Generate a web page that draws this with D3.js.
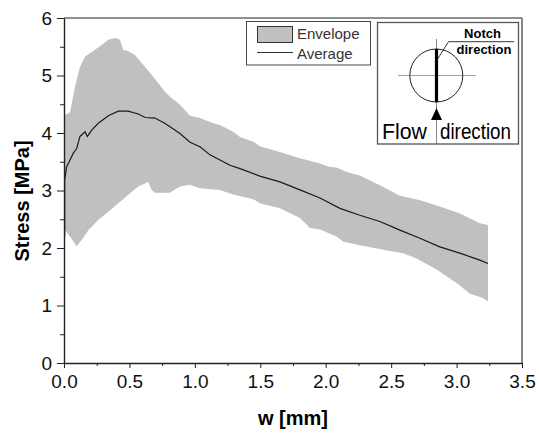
<!DOCTYPE html>
<html>
<head>
    <style>
        body { margin: 0; background: #fff; }
        svg text { font-family: "Liberation Sans", Arial, sans-serif; }
        .axis path, .axis line { stroke: #222; }
        .axis text { font-size: 19px; fill: #111; }
    </style>
</head>
<body>
    <script src="https://d3js.org/d3.v7.min.js"></script>
    <script>
        // Envelope (upper / lower bound)
        var upperW = [0, 0.03, 0.046, 0.084, 0.122, 0.161, 0.212, 0.288, 0.339, 0.38, 0.401, 0.428, 0.453, 0.49, 0.54, 0.62, 0.682, 0.77, 0.81, 0.886, 0.963, 1.039, 1.14, 1.192, 1.293, 1.345, 1.446, 1.497, 1.65, 1.803, 1.956, 2.032, 2.083, 2.16, 2.26, 2.414, 2.567, 2.72, 2.872, 3.025, 3.178, 3.24];
        var upperS = [4.31, 4.34, 4.36, 4.8, 5.15, 5.33, 5.41, 5.53, 5.62, 5.65, 5.65, 5.62, 5.45, 5.42, 5.36, 5.15, 4.98, 4.72, 4.63, 4.49, 4.30, 4.26, 4.17, 4.14, 4.02, 3.93, 3.85, 3.77, 3.67, 3.56, 3.47, 3.41, 3.40, 3.32, 3.26, 3.09, 2.91, 2.83, 2.72, 2.60, 2.43, 2.40];
        var lowerW = [0, 0.008, 0.046, 0.097, 0.135, 0.186, 0.262, 0.339, 0.415, 0.49, 0.567, 0.644, 0.67, 0.695, 0.81, 0.886, 0.963, 1.039, 1.192, 1.293, 1.446, 1.497, 1.65, 1.803, 1.88, 1.956, 2.083, 2.134, 2.26, 2.44, 2.59, 2.69, 2.85, 3.0, 3.10, 3.20, 3.24];
        var lowerS = [2.25, 2.31, 2.20, 2.03, 2.14, 2.31, 2.49, 2.63, 2.78, 2.92, 3.07, 3.15, 3.01, 2.96, 2.96, 3.07, 3.10, 3.04, 3.01, 2.93, 2.85, 2.78, 2.69, 2.52, 2.35, 2.32, 2.20, 2.11, 2.05, 1.97, 1.91, 1.82, 1.62, 1.39, 1.21, 1.13, 1.07];

        // Average curve
        var avgW = [0.005, 0.005, 0.02, 0.046, 0.071, 0.097, 0.122, 0.161, 0.178, 0.212, 0.262, 0.339, 0.415, 0.49, 0.567, 0.62, 0.695, 0.77, 0.83, 0.886, 0.963, 1.039, 1.116, 1.192, 1.268, 1.345, 1.497, 1.65, 1.803, 1.956, 2.109, 2.26, 2.414, 2.567, 2.72, 2.872, 3.025, 3.178, 3.24];
        var avgS = [2.2, 3.18, 3.41, 3.53, 3.65, 3.73, 3.94, 4.02, 3.94, 4.05, 4.17, 4.30, 4.38, 4.38, 4.33, 4.27, 4.26, 4.17, 4.08, 3.99, 3.84, 3.76, 3.62, 3.53, 3.44, 3.38, 3.25, 3.15, 3.01, 2.87, 2.69, 2.57, 2.46, 2.31, 2.17, 2.02, 1.91, 1.79, 1.73];

        var xTicks = [0, 0.5, 1.0, 1.5, 2.0, 2.5, 3.0, 3.5];
        var yTicks = [0, 1, 2, 3, 4, 5, 6];
        var legendLabels = ["Envelope", "Average"];

        var margin = { top: 18, right: 17, bottom: 72, left: 64 },
            width = 539 - margin.left - margin.right,
            height = 435 - margin.top - margin.bottom;

        var svg = d3.select("body").append("svg")
            .attr("width", 539)
            .attr("height", 435);

        var g = svg.append("g")
            .attr("transform", "translate(" + margin.left + "," + margin.top + ")");

        var x = d3.scaleLinear().domain([0, 3.5]).range([0, width]);
        var y = d3.scaleLinear().domain([0, 6]).range([height, 0]);

        // Envelope polygon: upper bound forward, lower bound backward
        var upperPts = upperW.map(function (w, i) { return [w, upperS[i]]; });
        var lowerPts = lowerW.map(function (w, i) { return [w, lowerS[i]]; }).reverse();
        var poly = d3.line()
            .x(function (d) { return x(d[0]); })
            .y(function (d) { return y(d[1]); });

        g.append("path")
            .attr("d", poly(upperPts.concat(lowerPts)) + "Z")
            .attr("fill", "#c0c0c0")
            .attr("stroke", "none");

        g.append("path")
            .datum(avgW.map(function (w, i) { return [w, avgS[i]]; }))
            .attr("d", poly)
            .attr("fill", "none")
            .attr("stroke", "#1a1a1a")
            .attr("stroke-width", 1.2);

        // Frame top / right
        g.append("line").attr("x1", 0).attr("x2", width).attr("y1", 0).attr("y2", 0)
            .attr("stroke", "#6a6a6a").attr("stroke-width", 1.3);
        g.append("line").attr("x1", width).attr("x2", width).attr("y1", 0).attr("y2", height)
            .attr("stroke", "#6a6a6a").attr("stroke-width", 1.6);

        // Minor ticks
        g.append("g").attr("class", "axis")
            .attr("transform", "translate(0," + height + ")")
            .call(d3.axisBottom(x).tickValues(d3.range(0.25, 3.5, 0.5)).tickSize(3).tickFormat(""))
            .select(".domain").remove();
        g.append("g").attr("class", "axis")
            .call(d3.axisLeft(y).tickValues(d3.range(0.5, 6, 1)).tickSize(4).tickFormat(""))
            .select(".domain").remove();

        // Major axes
        g.append("g").attr("class", "axis")
            .attr("transform", "translate(0," + height + ")")
            .call(d3.axisBottom(x).tickValues(xTicks).tickSize(5).tickSizeOuter(0).tickPadding(7).tickFormat(d3.format(".1f")));
        g.append("g").attr("class", "axis")
            .call(d3.axisLeft(y).tickValues(yTicks).tickSize(7).tickSizeOuter(0).tickPadding(5).tickFormat(d3.format("d")));
        g.selectAll(".axis path.domain").attr("stroke-width", 1.4);

        // Axis titles
        svg.append("text")
            .attr("x", 293).attr("y", 425)
            .attr("text-anchor", "middle")
            .style("font-size", "20px").style("font-weight", "bold")
            .text("w [mm]");
        svg.append("text")
            .attr("transform", "translate(29,201) rotate(-90)")
            .attr("text-anchor", "middle")
            .style("font-size", "20px").style("font-weight", "bold")
            .text("Stress [MPa]");

        // Legend
        var leg = svg.append("g");
        leg.append("rect").attr("x", 246.5).attr("y", 21.5).attr("width", 124).attr("height", 43.5)
            .attr("fill", "#fff").attr("stroke", "#444").attr("stroke-width", 1);
        leg.append("rect").attr("x", 257.5).attr("y", 26.5).attr("width", 35).attr("height", 16)
            .attr("fill", "#c0c0c0").attr("stroke", "#333").attr("stroke-width", 1);
        leg.append("line").attr("x1", 257).attr("x2", 293).attr("y1", 52.5).attr("y2", 52.5)
            .attr("stroke", "#333").attr("stroke-width", 1.2);
        leg.selectAll("text.lab").data(legendLabels).enter().append("text")
            .attr("class", "lab")
            .attr("x", 297)
            .attr("y", function (d, i) { return 38.5 + i * 20; })
            .style("font-size", "15px").style("fill", "#333")
            .text(function (d) { return d; });

        // Inset sketch
        var ins = svg.append("g");
        ins.append("rect").attr("x", 377.5).attr("y", 22.5).attr("width", 141).attr("height", 121.5)
            .attr("fill", "#fff").attr("stroke", "#555").attr("stroke-width", 1.3);
        ins.append("line").attr("x1", 398).attr("x2", 476).attr("y1", 75.5).attr("y2", 75.5)
            .attr("stroke", "#888").attr("stroke-width", 0.8);
        ins.append("line").attr("x1", 436.5).attr("x2", 436.5).attr("y1", 39).attr("y2", 144)
            .attr("stroke", "#666").attr("stroke-width", 0.8);
        ins.append("circle").attr("cx", 436.3).attr("cy", 75.5).attr("r", 26.5)
            .attr("fill", "none").attr("stroke", "#222").attr("stroke-width", 1);
        ins.append("line").attr("x1", 436.5).attr("x2", 436.5).attr("y1", 49).attr("y2", 102)
            .attr("stroke", "#000").attr("stroke-width", 3.2);
        ins.append("path").attr("d", "M431,120L442,120L436.5,108Z").attr("fill", "#000");
        ins.append("line").attr("x1", 437).attr("y1", 60).attr("x2", 448.5).attr("y2", 41.7)
            .attr("stroke", "#222").attr("stroke-width", 0.9);
        ins.append("line").attr("x1", 448.5).attr("y1", 41.7).attr("x2", 514).attr("y2", 41.7)
            .attr("stroke", "#222").attr("stroke-width", 0.9);
        ins.append("text").attr("x", 482.5).attr("y", 37.5).attr("text-anchor", "middle")
            .style("font-size", "13px").style("font-weight", "bold").text("Notch");
        ins.append("text").attr("x", 484).attr("y", 54).attr("text-anchor", "middle")
            .style("font-size", "13px").style("font-weight", "bold").text("direction");
        ins.append("text").attr("x", 382).attr("y", 139)
            .attr("textLength", 45).attr("lengthAdjust", "spacingAndGlyphs")
            .style("font-size", "22px").text("Flow");
        ins.append("text").attr("x", 440).attr("y", 139)
            .attr("textLength", 71).attr("lengthAdjust", "spacingAndGlyphs")
            .style("font-size", "22px").text("direction");
    </script>
</body>
</html>
